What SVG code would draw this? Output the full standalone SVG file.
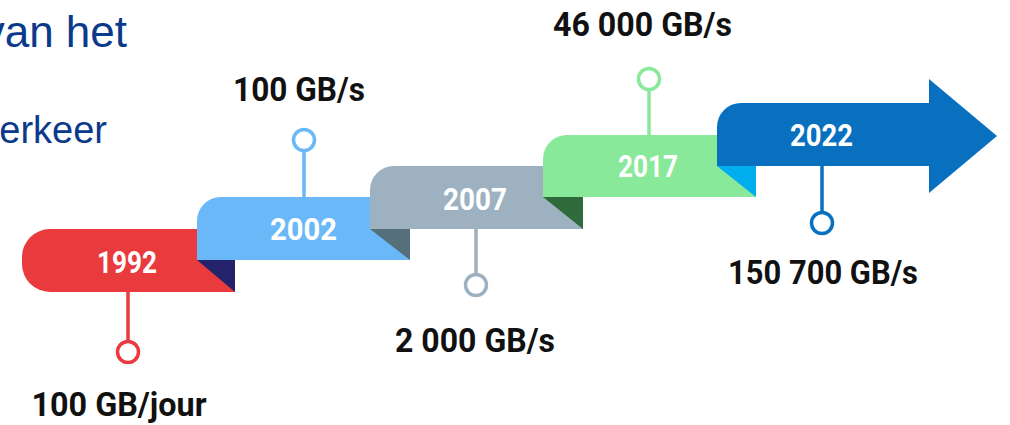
<svg xmlns="http://www.w3.org/2000/svg" width="1010" height="425" viewBox="0 0 1010 425">
<style>
.yr{font-family:Roboto,"Liberation Sans",sans-serif;font-weight:700;font-size:32px;fill:#ffffff;text-anchor:middle}
.lb{font-family:Roboto,"Liberation Sans",sans-serif;font-weight:700;font-size:34px;fill:#111111;text-anchor:middle}
.hd{font-family:"Liberation Sans",Arial,sans-serif;fill:#0B3A8A;text-anchor:end}
.ln{stroke-width:3.5;fill:none}
.dot{stroke-width:3.5;fill:#ffffff}
</style>
<rect x="0" y="0" width="1010" height="425" fill="#ffffff"/>
<g id="heading">
<text class="hd" x="127" y="47" font-size="44">van het</text>
<text class="hd" x="107" y="143" font-size="38">erkeer</text>
</g>
<g id="node-1992">
<path d="M50,229 H235 V292 H50 A28,28 0 0 1 22,264 V257 A28,28 0 0 1 50,229 Z" fill="#E93A3D"/>
<path d="M197,260 H235 V292 Z" fill="#23226A"/>
<text class="yr" x="127" y="273" textLength="60" lengthAdjust="spacingAndGlyphs">1992</text>
<text class="lb" x="119" y="416" textLength="175" lengthAdjust="spacingAndGlyphs">100 GB/jour</text>
</g>
<g id="node-2002">
<path d="M221,197 H410 V260 H197 V221 A24,24 0 0 1 221,197 Z" fill="#6BB8F8"/>
<path d="M370,229 H410 V260 Z" fill="#556F7B"/>
<text class="yr" x="303.5" y="240" textLength="67" lengthAdjust="spacingAndGlyphs">2002</text>
<text class="lb" x="299" y="101" textLength="132" lengthAdjust="spacingAndGlyphs">100 GB/s</text>
</g>
<g id="node-2007">
<path d="M394,166 H583 V229 H370 V190 A24,24 0 0 1 394,166 Z" fill="#9EB1C0"/>
<path d="M543,197 H583 V229 Z" fill="#2E6A3A"/>
<text class="yr" x="475" y="210" textLength="64" lengthAdjust="spacingAndGlyphs">2007</text>
<text class="lb" x="475" y="352" textLength="160" lengthAdjust="spacingAndGlyphs">2 000 GB/s</text>
</g>
<g id="node-2017">
<path d="M567,135 H756 V197 H543 V159 A24,24 0 0 1 567,135 Z" fill="#88E99B"/>
<path d="M717,166 H756 V197 Z" fill="#00AEEF"/>
<text class="yr" x="648" y="177" textLength="60" lengthAdjust="spacingAndGlyphs">2017</text>
<text class="lb" x="642.5" y="36" textLength="179" lengthAdjust="spacingAndGlyphs">46 000 GB/s</text>
</g>
<g id="node-2022">
<path d="M741,103 H929 V79 L997,136 L929,193 V166 H717 V127 A24,24 0 0 1 741,103 Z" fill="#0870BF"/>
<text class="yr" x="821.5" y="146" textLength="63" lengthAdjust="spacingAndGlyphs">2022</text>
<text class="lb" x="823" y="284" textLength="190" lengthAdjust="spacingAndGlyphs">150 700 GB/s</text>
</g>
<g id="connectors">
<line class="ln" x1="128" y1="292" x2="128" y2="341.5" stroke="#E93A3D"/>
<circle class="dot" cx="128" cy="352" r="10.5" stroke="#E93A3D"/>
<line class="ln" x1="304" y1="150.5" x2="304" y2="197" stroke="#6BB8F8"/>
<circle class="dot" cx="304" cy="140" r="10.5" stroke="#6BB8F8"/>
<line class="ln" x1="476" y1="229" x2="476" y2="274.5" stroke="#9EB1C0"/>
<circle class="dot" cx="476" cy="285" r="10.5" stroke="#9EB1C0"/>
<line class="ln" x1="649" y1="89.5" x2="649" y2="135" stroke="#88E99B"/>
<circle class="dot" cx="649" cy="79" r="10.5" stroke="#88E99B"/>
<line class="ln" x1="822" y1="166" x2="822" y2="212.5" stroke="#0870BF"/>
<circle class="dot" cx="822" cy="223" r="10.5" stroke="#0870BF"/>
</g>
</svg>
